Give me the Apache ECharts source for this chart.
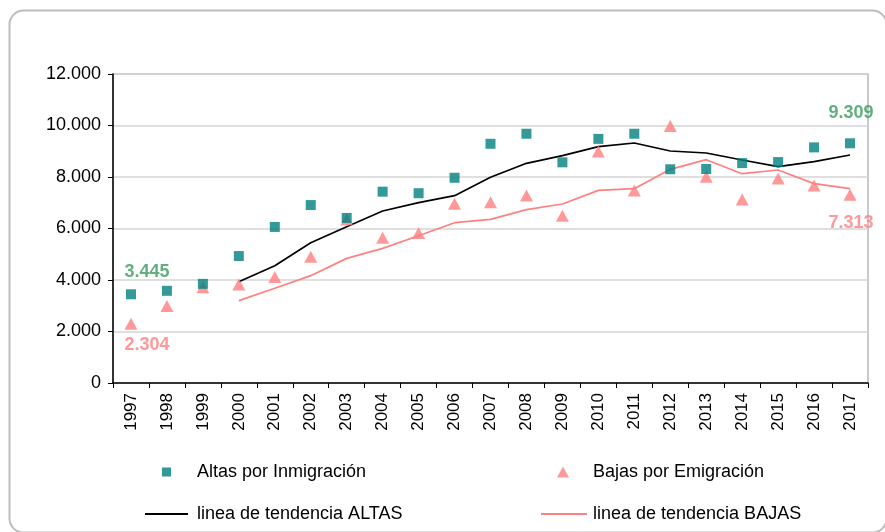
<!DOCTYPE html>
<html>
<head>
<meta charset="utf-8">
<script src="https://cdn.jsdelivr.net/npm/echarts@6/dist/echarts.min.js"></script>
<style>
  html, body { margin: 0; padding: 0; background: #fff; }
  #chart { width: 885px; height: 532px; }
</style>
</head>
<body>
<div id="chart"></div>
<script>
// data
var years = ['1997','1998','1999','2000','2001','2002','2003','2004','2005','2006','2007',
             '2008','2009','2010','2011','2012','2013','2014','2015','2016','2017'];
var altas = [3445, 3580, 3850, 4930, 6060, 6910, 6410, 7430, 7370, 7970, 9290,
             9680, 8570, 9480, 9680, 8300, 8310, 8540, 8580, 9150, 9309];
var bajas = [2304, 2990, 3720, 3830, 4120, 4900, 6350, 5640, 5830, 6960, 7020,
             7280, 6500, 8990, 7480, 9980, 8010, 7130, 7940, 7670, 7313];
var tendAltas = [null, null, null, 3934, 4555, 5449, 6070, 6680, 7002, 7274, 7988,
                 8531, 8828, 9178, 9320, 9010, 8932, 8660, 8400, 8595, 8854];
var tendBajas = [null, null, null, 3197, 3677, 4168, 4840, 5230, 5720, 6226, 6355,
                 6731, 6951, 7482, 7547, 8298, 8673, 8129, 8272, 7741, 7547];

var FONT = '"Liberation Sans", Arial, sans-serif';
var GREEN = '#3a9a5e';
var PINK = '#ff8080';

function fmt(v) {
  return String(v).replace(/\B(?=(\d{3})+(?!\d))/g, '.');
}

// label first and last point of each marker series
function withEnds(arr, color, offFirst, offLast) {
  return arr.map(function (v, i) {
    if (i === 0 || i === arr.length - 1) {
      return {
        value: v,
        label: {
          show: true, position: 'inside', formatter: fmt(v), color: color,
          fontFamily: FONT, fontSize: 18, fontWeight: 'bold',
          offset: i === 0 ? offFirst : offLast
        }
      };
    }
    return v;
  });
}

var chart = echarts.init(document.getElementById('chart'));

function legendItem(name, icon, left, top, w, h, pad) {
  return {
    orient: 'horizontal', left: left, top: top, padding: 0,
    itemWidth: w, itemHeight: h,
    textStyle: { fontFamily: FONT, fontSize: 18, color: '#000', padding: [0, 0, 0, pad] },
    data: [{ name: name, icon: icon }]
  };
}

var option = {
  backgroundColor: '#fff',
  animation: false,
  graphic: [{
    type: 'rect', left: 7, top: 8,
    shape: { width: 877, height: 522, r: 14 },
    style: { fill: 'none', stroke: '#bdbdbd', lineWidth: 2 },
    z: -10
  }],
  grid: {
    left: 113, right: 17, top: 74, bottom: 149,
    show: true, borderColor: '#b8b8b8', borderWidth: 1.5
  },
  legend: [
    legendItem('Altas por Inmigración', 'rect', 162, 463, 9, 9, 21),
    legendItem('Bajas por Emigración', 'triangle', 557, 463, 12, 11, 19),
    legendItem('linea de tendencia ALTAS', 'rect', 145, 505, 43, 2, 4),
    legendItem('linea de tendencia BAJAS', 'rect', 541, 505, 46, 2, 1)
  ],
  xAxis: {
    type: 'category',
    data: years,
    boundaryGap: true,
    axisLine: { lineStyle: { color: '#000', width: 1.5 } },
    axisTick: { show: true, length: 5, lineStyle: { color: '#000' } },
    axisLabel: { rotate: 90, interval: 0, margin: 10, fontFamily: FONT, fontSize: 17, color: '#000' },
    splitLine: { show: false }
  },
  yAxis: {
    type: 'value',
    min: 0, max: 12000, interval: 2000,
    axisLine: { show: true, lineStyle: { color: '#000', width: 1.5 } },
    axisTick: { show: true, length: 5, lineStyle: { color: '#000' } },
    axisLabel: { fontFamily: FONT, fontSize: 18, color: '#000', margin: 12, formatter: fmt },
    splitLine: { lineStyle: { color: '#d4d4d4', width: 1.5 } }
  },
  series: [
    {
      name: 'Altas por Inmigración', type: 'scatter',
      symbol: 'rect', symbolSize: 10,
      itemStyle: { color: '#008080' },
      data: withEnds(altas, GREEN, [16, -22], [1, -30]),
      z: 5
    },
    {
      name: 'Bajas por Emigración', type: 'scatter',
      symbol: 'triangle', symbolSize: [13, 12],
      itemStyle: { color: PINK },
      data: withEnds(bajas, PINK, [16, 21], [1, 28]),
      z: 4
    },
    {
      name: 'linea de tendencia ALTAS', type: 'line',
      data: tendAltas, showSymbol: false, symbol: 'none',
      lineStyle: { color: '#000', width: 1.7 },
      itemStyle: { color: '#000' },
      z: 3
    },
    {
      name: 'linea de tendencia BAJAS', type: 'line',
      data: tendBajas, showSymbol: false, symbol: 'none',
      lineStyle: { color: PINK, width: 1.7 },
      itemStyle: { color: PINK },
      z: 3
    }
  ]
};

chart.setOption(option);
</script>
</body>
</html>
